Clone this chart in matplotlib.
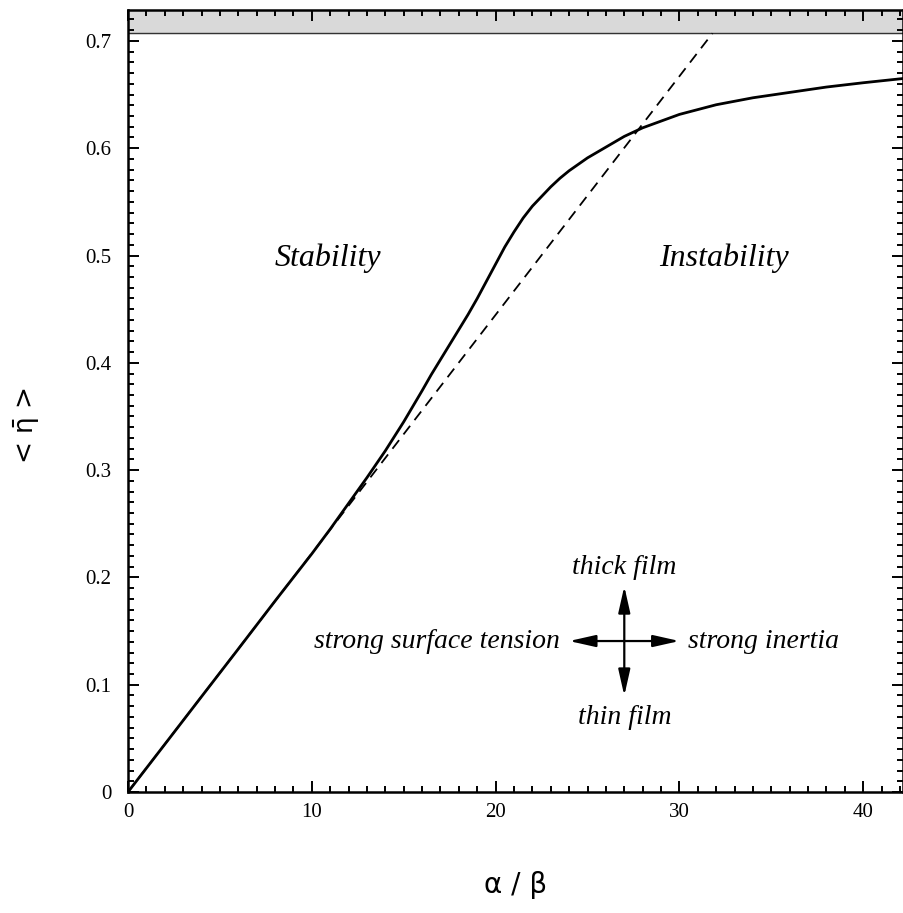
import numpy as np
import matplotlib
matplotlib.use("Agg")
import matplotlib.pyplot as plt

# solid curve
ratio = [0, 2, 4, 6, 8, 10, 11, 12, 13, 14, 15, 16, 16.5, 17, 17.5, 18, 18.5,
         19, 19.5, 20, 20.5, 21, 21.5, 22, 22.5, 23, 23.5, 24, 25, 26, 27, 28,
         30, 32, 34, 36, 38, 40, 42.2]
eta = [0, 0.0444, 0.0889, 0.1333, 0.178, 0.222, 0.245, 0.269, 0.293, 0.318,
       0.345, 0.374, 0.389, 0.403, 0.417, 0.431, 0.445, 0.460, 0.476, 0.492,
       0.508, 0.522, 0.535, 0.546, 0.555, 0.564, 0.572, 0.579, 0.591, 0.601,
       0.611, 0.619, 0.6315, 0.6405, 0.647, 0.652, 0.657, 0.661, 0.665]

# dashed asymptote, ends where it meets the band
dash_x = [0, 31.8]
dash_y = [0, 0.7071]

band_low = 1 / np.sqrt(2)

plt.rcParams['font.family'] = ['Liberation Serif', 'DejaVu Serif']

fig = plt.figure(figsize=(9.04, 9.13), dpi=100)
ax = fig.add_axes([128 / 904, 121 / 913, 775.5 / 904, 782 / 913])

ax.axhspan(band_low, 1.0, color='#d9d9d9', zorder=0)
ax.axhline(band_low, color='#333333', linewidth=1.0)

ax.plot(ratio, eta, color='black', linewidth=2.0)
ax.plot(dash_x, dash_y, color='black', linewidth=1.3, dashes=(6, 4))

ax.set_xlim(0, 42.19)
ax.set_ylim(0, 0.7288)
ax.set_xticks([0, 10, 20, 30, 40])
ax.set_xticks(np.arange(0, 43, 1), minor=True)
ax.set_yticks([0, 0.1, 0.2, 0.3, 0.4, 0.5, 0.6, 0.7])
ax.set_yticklabels(['0', '0.1', '0.2', '0.3', '0.4', '0.5', '0.6', '0.7'])
ax.set_yticks(np.arange(0, 0.73, 0.01), minor=True)
ax.tick_params(which='both', direction='in', top=True, right=True,
               width=1.4, labelsize=15)
ax.tick_params(which='major', length=8)
ax.tick_params(axis='y', which='major', pad=12)
ax.tick_params(axis='x', which='major', pad=8)
ax.tick_params(which='minor', length=4)
for s in ax.spines.values():
    s.set_linewidth(1.8)

# region labels
ax.text(10.88, 0.4977, 'Stability', style='italic', fontsize=23,
        ha='center', va='center')
ax.text(32.45, 0.4977, 'Instability', style='italic', fontsize=23,
        ha='center', va='center')

# the cross of arrows
cx, cy = 27.0, 0.1407
arrow = dict(arrowstyle='-|>,head_length=1.6,head_width=0.36',
             color='black', linewidth=1.6, shrinkA=0, shrinkB=0)
for dx, dy in [(3.0, 0), (-3.0, 0), (0, 0.051), (0, -0.051)]:
    ax.annotate('', xy=(cx + dx, cy + dy), xytext=(cx, cy), arrowprops=arrow)

ax.text(cx, 0.2088, 'thick film', style='italic', fontsize=20,
        ha='center', va='center')
ax.text(cx, 0.069, 'thin film', style='italic', fontsize=20,
        ha='center', va='center')
ax.text(23.5, cy, 'strong surface tension', style='italic', fontsize=20,
        ha='right', va='center')
ax.text(30.45, cy, 'strong inertia', style='italic', fontsize=20,
        ha='left', va='center')

fig.text(515.5 / 904, 1 - 885 / 913, 'α / β', fontsize=20,
         family='DejaVu Sans', ha='center', va='center')
fig.text(27 / 904, 1 - 426 / 913, r'< $\bar{\mathrm{\eta}}$ >', fontsize=19,
         family='DejaVu Sans', rotation=90, ha='center', va='center',
         math_fontfamily='dejavusans')

fig.savefig('out.png', dpi=100)
